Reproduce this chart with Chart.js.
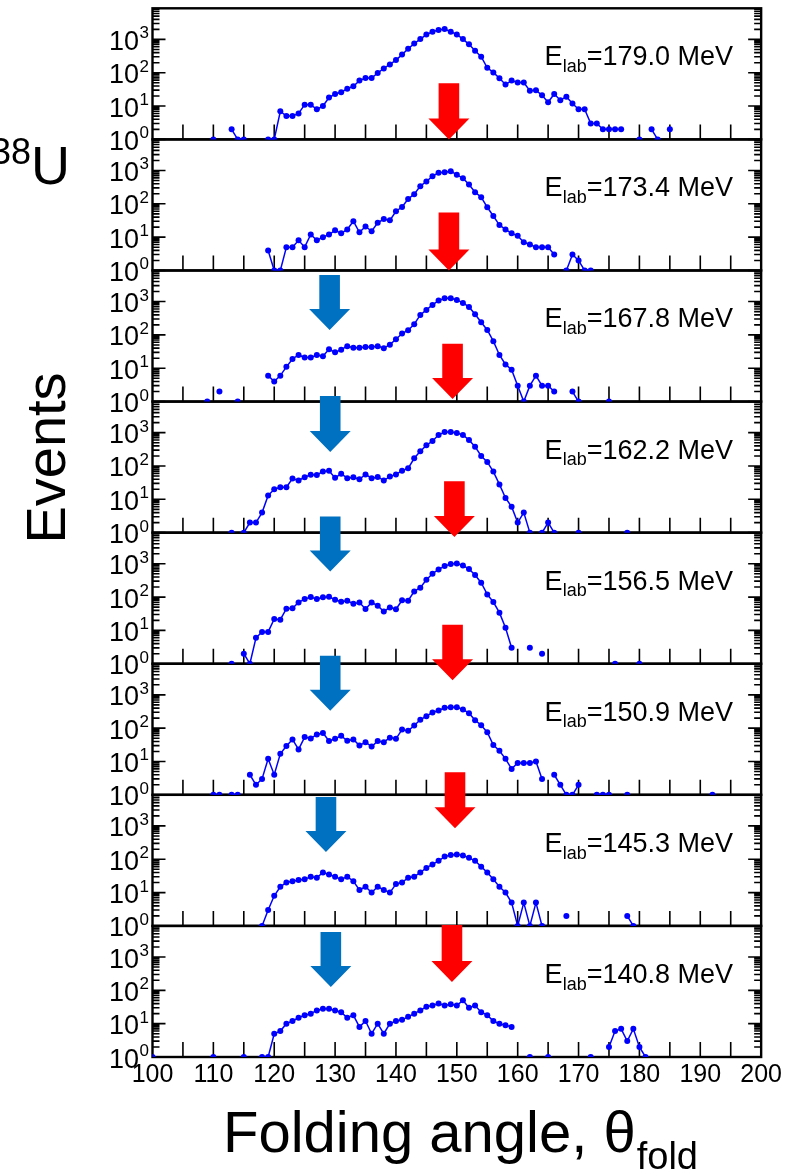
<!DOCTYPE html>
<html>
<head>
<meta charset="utf-8">
<script src="https://cdn.jsdelivr.net/npm/chart.js@4.4.1/dist/chart.umd.min.js"></script>
<style>
  html, body { margin: 0; padding: 0; background: #ffffff; }
  canvas { display: block; }
</style>
</head>
<body>
<canvas id="chart" width="785" height="1175"></canvas>
<script>
// Folding-angle distributions, one panel per beam energy (top to bottom).
const energyLabels = ['179.0', '173.4', '167.8', '162.2', '156.5', '150.9', '145.3', '140.8'];

// E_lab = 179.0 MeV
const angles179 = [110, 113, 114, 115, 119, 120,
  121, 122, 123, 124, 125, 126, 127, 128, 129, 130,
  131, 132, 133, 134, 135, 136, 137, 138, 139, 140,
  141, 142, 143, 144, 145, 146, 147, 148, 149, 150,
  151, 152, 153, 154, 155, 156, 157, 158, 159, 160,
  161, 162, 163, 164, 165, 166, 167, 168, 169, 170,
  171, 172, 173, 174, 175, 176, 177, 180, 182, 183, 185];
const counts179 = [1, 2, 1, 1, 1, 1,
  7, 5, 5, 6, 11, 11, 8, 10, 18, 23,
  26, 33, 39, 58, 69, 69, 98, 135, 178, 240,
  350, 525, 750, 1020, 1400, 1700, 1900, 2040, 1700, 1410,
  1020, 710, 457, 302, 141, 102, 68, 44, 58, 51,
  51, 29, 30, 21, 13, 23, 15, 19, 12, 8,
  8, 3, 3, 2, 2, 2, 2, 1, 2, 1, 2];

// E_lab = 173.4 MeV
const angles173 = [119, 120, 121, 122, 123, 124, 125, 126, 127, 128,
  129, 130, 131, 132, 133, 134, 135, 136, 137, 138,
  139, 140, 141, 142, 143, 144, 145, 146, 147, 148,
  149, 150, 151, 152, 153, 154, 155, 156, 157, 158,
  159, 160, 161, 162, 163, 164, 165, 166,
  168, 169, 170, 171, 172];
const counts173 = [4, 1, 1, 5, 5, 8, 5, 12, 8, 10,
  12, 16, 13, 17, 30, 14, 21, 15, 27, 35,
  32, 60, 80, 140, 195, 339, 468, 676, 851, 891,
  955, 741, 589, 380, 224, 158, 79, 43, 23, 17,
  13, 11, 7, 6, 5, 5, 5, 3,
  1, 3, 2, 1, 1];

// E_lab = 167.8 MeV
const angles167 = [109, 111, 114,
  119, 120, 121, 122, 123, 124, 125, 126, 127, 128,
  129, 130, 131, 132, 133, 134, 135, 136, 137, 138,
  139, 140, 141, 142, 143, 144, 145, 146, 147, 148,
  149, 150, 151, 152, 153, 154, 155, 156, 157, 158,
  159, 160, 161, 162, 163, 164, 165, 166,
  169, 170, 175];
const counts167 = [1, 2, 1,
  6, 4, 6, 11, 19, 25, 21, 21, 25, 23,
  37, 30, 36, 46, 41, 41, 43, 43, 46, 40,
  51, 74, 110, 138, 209, 398, 562, 794, 1070, 1260,
  1260, 1120, 912, 692, 417, 240, 141, 65, 25, 13,
  9, 3, 1, 3, 6, 3, 3, 2,
  2, 1, 1];

// E_lab = 162.2 MeV
const angles162 = [113,
  115, 116, 117, 118, 119, 120, 121, 122, 123, 124,
  125, 126, 127, 128, 129, 130, 131, 132, 133, 134,
  135, 136, 137, 138, 139, 140, 141, 142, 143, 144,
  145, 146, 147, 148, 149, 150, 151, 152, 153, 154,
  155, 156, 157, 158, 159, 160, 161, 162,
  164, 165, 166, 170, 178];
const counts162 = [1,
  1, 2, 2, 4, 13, 20, 23, 23, 42, 37,
  46, 55, 54, 68, 72, 44, 59, 43, 46, 40,
  56, 43, 47, 37, 48, 56, 72, 85, 170, 275,
  417, 562, 851, 1050, 1050, 977, 851, 603, 380, 200,
  132, 68, 28, 11, 6, 2, 4, 1,
  1, 2, 1, 1, 1];

// E_lab = 156.5 MeV
const angles156 = [113,
  115, 116, 117, 118, 119, 120, 121, 122, 123, 124,
  125, 126, 127, 128, 129, 130, 131, 132, 133, 134,
  135, 136, 137, 138, 139, 140, 141, 142, 143, 144,
  145, 146, 147, 148, 149, 150, 151, 152, 153, 154,
  155, 156, 157, 158, 159,
  162, 164, 176, 180];
const counts156 = [1,
  2, 1, 6, 9, 9, 22, 21, 45, 46, 69,
  87, 100, 87, 98, 102, 83, 72, 78, 63, 69,
  44, 69, 55, 37, 49, 43, 80, 78, 148, 191,
  331, 501, 676, 851, 977, 1020, 891, 692, 457, 269,
  120, 71, 34, 12, 3,
  3, 2, 1, 1];

// E_lab = 150.9 MeV
const angles150 = [110, 111, 113, 114,
  116, 117, 118, 119, 120, 121, 122, 123, 124, 125,
  126, 127, 128, 129, 130, 131, 132, 133, 134, 135,
  136, 137, 138, 139, 140, 141, 142, 143, 144, 145,
  146, 147, 148, 149, 150, 151, 152, 153, 154, 155,
  156, 157, 158, 159, 160, 161, 162, 163, 164,
  166, 167, 168, 169, 170, 173, 174, 175, 178, 192];
const counts150 = [1, 1, 1, 1,
  4, 2, 3, 12, 4, 17, 29, 46, 23, 54,
  49, 65, 72, 41, 48, 59, 42, 46, 30, 38,
  28, 41, 38, 52, 48, 91, 83, 120, 178, 229,
  295, 339, 407, 427, 427, 363, 282, 174, 123, 76,
  31, 21, 12, 6, 9, 9, 9, 10, 3,
  4, 2, 1, 1, 2, 1, 1, 1, 1, 1];

// E_lab = 145.3 MeV
const angles145 = [118, 119, 120, 121, 122, 123, 124, 125, 126, 127,
  128, 129, 130, 131, 132, 133, 134, 135, 136, 137,
  138, 139, 140, 141, 142, 143, 144, 145, 146, 147,
  148, 149, 150, 151, 152, 153, 154, 155, 156, 157,
  158, 159, 160, 161, 162, 163, 164,
  168, 178, 179];
const counts145 = [1, 3, 8, 15, 20, 22, 24, 25, 30, 28,
  40, 35, 30, 25, 30, 22, 12, 15, 10, 15,
  12, 10, 18, 20, 28, 30, 40, 55, 70, 90,
  120, 135, 140, 130, 110, 90, 60, 40, 25, 15,
  10, 5, 1, 5, 1, 5, 1,
  2, 2, 1];

// E_lab = 140.8 MeV
const angles140 = [100, 110, 115,
  118, 119, 120, 121, 122, 123, 124, 125, 126, 127,
  128, 129, 130, 131, 132, 133, 134, 135, 136, 137,
  138, 139, 140, 141, 142, 143, 144, 145, 146, 147,
  148, 149, 150, 151, 152, 153, 154, 155, 156, 157,
  158, 159,
  162, 165, 172, 175, 176, 177, 178, 179, 180, 181];
const counts140 = [1, 1, 1,
  1, 1, 5, 6, 10, 12, 15, 18, 20, 25,
  28, 28, 25, 22, 15, 18, 8, 12, 5, 10,
  5, 10, 12, 13, 16, 20, 25, 32, 35, 40,
  35, 38, 35, 50, 30, 35, 22, 18, 12, 10,
  9, 8,
  1, 1, 1, 2, 6, 7, 3, 7, 2, 1];

// Arrow markers: panel index, folding angle, top and tip on that panel's count axis.
const redArrowPanel = [0, 1, 2, 3, 4, 6, 7];
const redArrowAngle = [148.7, 148.7, 149.3, 149.6, 149.3, 149.7, 149.2];
const redArrowTop   = [48, 55, 54, 35, 14.8, 40700, 9120];
const redArrowTip   = [1, 1, 1.19, 0.74, 0.32, 851, 178];

const blueArrowPanel = [2, 3, 4, 5, 6, 7];
const blueArrowAngle = [129.1, 129.2, 129.2, 129.2, 128.5, 129.3];
const blueArrowTop   = [6310, 12600, 26300, 14800, 7410, 5620];
const blueArrowTip   = [141, 263, 589, 331, 166, 126];

// Axis ranges and tick labels
const xTickLabels = [100, 110, 120, 130, 140, 150, 160, 170, 180, 190, 200];
const yDecades = [0, 1, 2, 3];
const X_MIN = 100, X_MAX = 200;
const Y_MIN = 1, Y_MAX = 8570;

const FONT = '"Liberation Sans", Arial, Helvetica, sans-serif';
const RED = '#ff0000';
const BLUE_ARROW = '#0070c0';
const DATA_BLUE = '#0000ff';

const series = [
  [angles179, counts179], [angles173, counts173], [angles167, counts167], [angles162, counts162],
  [angles156, counts156], [angles150, counts150], [angles145, counts145], [angles140, counts140]
];

const scales = {
  x: {
    type: 'linear', position: 'bottom', min: X_MIN, max: X_MAX,
    afterBuildTicks: s => { s.ticks = xTickLabels.map(v => ({ value: v })); },
    ticks: { color: '#000', font: { family: FONT, size: 25 }, padding: 3, maxRotation: 0, autoSkip: false },
    grid: { display: false, drawTicks: false },
    border: { display: false },
    afterFit: s => { s.height = 118; }
  }
};
series.forEach((_, i) => {
  scales['y' + i] = {
    type: 'logarithmic', position: 'left', stack: 'panels', stackWeight: 1,
    weight: series.length - i,
    min: Y_MIN, max: Y_MAX,
    ticks: { display: false },
    grid: { display: false, drawTicks: false },
    border: { display: false },
    afterFit: s => { s.width = 152.5; }
  };
});

const datasets = series.map(([angles, counts], i) => ({
  label: 'E_lab=' + energyLabels[i] + ' MeV',
  xAxisID: 'x',
  yAxisID: 'y' + i,
  data: angles.map((a, k) => ({ x: a, y: counts[k] })),
  borderColor: DATA_BLUE,
  backgroundColor: DATA_BLUE,
  borderWidth: 1.5,
  pointRadius: 3,
  pointBorderWidth: 0,
  pointHoverRadius: 3,
  tension: 0,
  spanGaps: 1.5
}));

function drawArrow(ctx, xs, ys, angle, top, tip, color) {
  const px = xs.getPixelForValue(angle);
  const yt = ys.getPixelForValue(top);
  const yp = ys.getPixelForValue(tip);
  const shaft = 10.3, head = 20.5, headLen = 21;
  const yb = yp - headLen;
  ctx.beginPath();
  ctx.moveTo(px - shaft, yt);
  ctx.lineTo(px + shaft, yt);
  ctx.lineTo(px + shaft, yb);
  ctx.lineTo(px + head, yb);
  ctx.lineTo(px, yp);
  ctx.lineTo(px - head, yb);
  ctx.lineTo(px - shaft, yb);
  ctx.closePath();
  ctx.fillStyle = color;
  ctx.fill();
}

const panelDecor = {
  id: 'panelDecor',
  // frames, ticks and labels go underneath the data
  beforeDatasetsDraw(chart) {
    const ctx = chart.ctx;
    const xs = chart.scales.x;
    const left = chart.chartArea.left, right = chart.chartArea.right;
    ctx.save();
    ctx.strokeStyle = '#000';
    ctx.fillStyle = '#000';
    series.forEach((_, i) => {
      const ys = chart.scales['y' + i];
      const top = ys.top, bottom = ys.bottom;
      // ticks on the angle axis, pointing inward from the panel floor
      ctx.lineWidth = 1.6;
      ctx.beginPath();
      for (let v = X_MIN + 5; v < X_MAX; v += 5) {
        const px = xs.getPixelForValue(v);
        ctx.moveTo(px, bottom);
        ctx.lineTo(px, bottom - 15);
      }
      ctx.stroke();
      // logarithmic ticks on both sides
      ctx.beginPath();
      yDecades.forEach(d => {
        for (let m = 1; m <= 9; m++) {
          const v = m * Math.pow(10, d);
          if (v > Y_MAX) break;
          const py = ys.getPixelForValue(v);
          const len = m === 1 ? 13 : 7;
          ctx.moveTo(left, py); ctx.lineTo(left + len, py);
          ctx.moveTo(right, py); ctx.lineTo(right - len, py);
        }
      });
      ctx.stroke();
      // panel frame
      ctx.lineWidth = 2.4;
      ctx.strokeRect(left, top, right - left, bottom - top);
      // decade labels 10^n
      yDecades.forEach(d => {
        const py = ys.getPixelForValue(Math.pow(10, d));
        ctx.font = '27px ' + FONT;
        ctx.textAlign = 'right';
        ctx.textBaseline = 'alphabetic';
        ctx.fillText('10', 139, py + 10.5);
        ctx.font = '17px ' + FONT;
        ctx.textAlign = 'left';
        ctx.fillText(String(d), 139.5, py - 1);
      });
      // energy label
      const main = 27, sub = 18;
      ctx.font = main + 'px ' + FONT;
      const wE = ctx.measureText('E').width;
      const rest = '=' + energyLabels[i] + ' MeV';
      const wRest = ctx.measureText(rest).width;
      ctx.font = sub + 'px ' + FONT;
      const wLab = ctx.measureText('lab').width;
      const base = top + 57;
      const x0 = 733 - (wE + wLab + wRest);
      ctx.textAlign = 'left';
      ctx.font = main + 'px ' + FONT;
      ctx.fillText('E', x0, base);
      ctx.font = sub + 'px ' + FONT;
      ctx.fillText('lab', x0 + wE, base + 6.7);
      ctx.font = main + 'px ' + FONT;
      ctx.fillText(rest, x0 + wE + wLab, base);
    });
    ctx.restore();
  },
  afterDraw(chart) {
    const ctx = chart.ctx;
    const xs = chart.scales.x;
    ctx.save();
    redArrowPanel.forEach((p, k) => {
      drawArrow(ctx, xs, chart.scales['y' + p], redArrowAngle[k], redArrowTop[k], redArrowTip[k], RED);
    });
    blueArrowPanel.forEach((p, k) => {
      drawArrow(ctx, xs, chart.scales['y' + p], blueArrowAngle[k], blueArrowTop[k], blueArrowTip[k], BLUE_ARROW);
    });
    // axis titles
    ctx.fillStyle = '#000';
    ctx.textBaseline = 'alphabetic';
    ctx.textAlign = 'left';
    ctx.font = '58px ' + FONT;
    const t = 'Folding angle, \u03b8';
    ctx.fillText(t, 223, 1152);
    const wt = ctx.measureText(t).width;
    ctx.font = '38px ' + FONT;
    ctx.fillText('fold', 223 + wt + 1, 1169);
    ctx.save();
    ctx.translate(65, 458);
    ctx.rotate(-Math.PI / 2);
    ctx.font = '56px ' + FONT;
    ctx.textAlign = 'center';
    ctx.fillText('Events', 0, 0);
    ctx.restore();
    // target nucleus
    ctx.font = '36px ' + FONT;
    ctx.textAlign = 'right';
    ctx.fillText('238', 31, 164);
    ctx.font = '54px ' + FONT;
    ctx.textAlign = 'left';
    ctx.fillText('U', 31, 184);
    ctx.restore();
  }
};

new Chart(document.getElementById('chart'), {
  type: 'line',
  data: { datasets },
  options: {
    responsive: false,
    animation: false,
    devicePixelRatio: 1,
    layout: { padding: { top: 8.3, right: 21.5, bottom: 0, left: 0 } },
    plugins: { legend: { display: false }, tooltip: { enabled: false } },
    scales
  },
  plugins: [panelDecor]
});
</script>
</body>
</html>
